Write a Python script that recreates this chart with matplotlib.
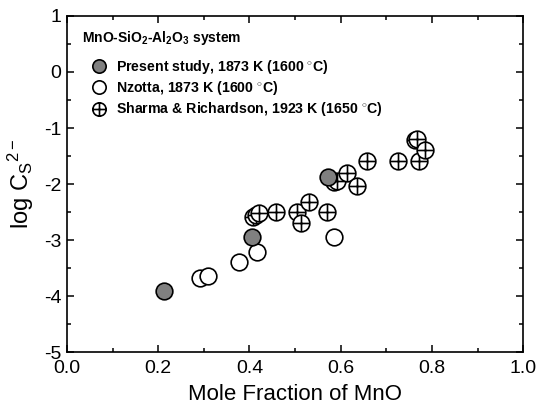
import numpy as np
import matplotlib
matplotlib.use("Agg")
import matplotlib.pyplot as plt
from matplotlib.path import Path
from matplotlib.ticker import MultipleLocator, FormatStrFormatter

plt.rcParams['font.family'] = ['Liberation Sans', 'DejaVu Sans']
plt.rcParams['mathtext.fontset'] = 'custom'
plt.rcParams['mathtext.rm'] = 'Liberation Sans'
plt.rcParams['mathtext.it'] = 'Liberation Sans'
plt.rcParams['mathtext.bf'] = 'Liberation Sans:bold'
plt.rcParams['axes.unicode_minus'] = False

# present study, 1873 K
x_present = [0.213, 0.406, 0.573]
y_present = [-3.91, -2.95, -1.87]

# Nzotta, 1873 K
x_nzotta = [0.292, 0.309, 0.378, 0.416, 0.586]
y_nzotta = [-3.67, -3.64, -3.39, -3.21, -2.94]

# Sharma & Richardson, 1923 K
x_sharma = [0.408, 0.415, 0.421, 0.458, 0.504, 0.513, 0.530, 0.569,
            0.585, 0.592, 0.613, 0.635, 0.657, 0.725, 0.762, 0.767,
            0.772, 0.784]
y_sharma = [-2.58, -2.55, -2.52, -2.50, -2.50, -2.69, -2.32, -2.49,
            -1.97, -1.94, -1.80, -2.04, -1.58, -1.59, -1.21, -1.19,
            -1.58, -1.40]

# circle with a cross inside
circ = Path.unit_circle()
hline = Path([[-1, 0], [1, 0]], [Path.MOVETO, Path.LINETO])
vline = Path([[0, -1], [0, 1]], [Path.MOVETO, Path.LINETO])
crossed = Path.make_compound_path(circ, hline, vline)

fig = plt.figure(figsize=(5.36, 4.09), dpi=100)
ax = fig.add_axes([0.125, 0.139, 0.851, 0.822])

ms = 12
ax.plot(x_nzotta, y_nzotta, 'o', ms=ms, mfc='white', mec='black', mew=1.2,
        label=r'Nzotta, 1873 K (1600 $^{\circ}$C)', zorder=3)
ax.plot(x_sharma, y_sharma, marker=crossed, ls='none', ms=ms, mfc='white',
        mec='black', mew=1.2,
        label=r'Sharma & Richardson, 1923 K (1650 $^{\circ}$C)', zorder=3)
ax.plot(x_present, y_present, 'o', ms=ms, mfc='#808080', mec='black', mew=1.2,
        label=r'Present study, 1873 K (1600 $^{\circ}$C)', zorder=4)

ax.text(0.033, 0.934,
        r'MnO-SiO$_\mathbf{2}$-Al$_\mathbf{2}$O$_\mathbf{3}$ system',
        transform=ax.transAxes, fontsize=10, fontweight='bold',
        ha='left', va='center')

handles, labels = ax.get_legend_handles_labels()
order = [2, 0, 1]
leg = ax.legend([handles[i] for i in order], [labels[i] for i in order],
                loc='upper left', frameon=False, numpoints=1,
                prop={'weight': 'bold', 'size': 10.2},
                markerscale=0.8, handlelength=1.5, handletextpad=0.45,
                labelspacing=0.22, borderaxespad=0.0,
                bbox_to_anchor=(0.035, 0.891))

ax.set_xlim(0, 1.0)
ax.set_ylim(-5, 1)
ax.xaxis.set_major_locator(MultipleLocator(0.2))
ax.xaxis.set_minor_locator(MultipleLocator(0.1))
ax.yaxis.set_major_locator(MultipleLocator(1))
ax.yaxis.set_minor_locator(MultipleLocator(0.5))
ax.xaxis.set_major_formatter(FormatStrFormatter('%.1f'))
ax.tick_params(which='both', direction='in', top=True, right=True,
               labelsize=14, width=1.1)
ax.tick_params(which='major', length=5)
ax.tick_params(which='minor', length=3)
ax.tick_params(axis='x', which='major', pad=6)
ax.tick_params(axis='y', which='major', pad=4)
for s in ax.spines.values():
    s.set_linewidth(1.2)

ax.set_xlabel('Mole Fraction of MnO', fontsize=16, labelpad=5)
ax.set_ylabel(r'log C$_\mathregular{S}$$^\mathregular{2-}$', fontsize=17,
              labelpad=6)

fig.savefig('out.png', dpi=100)
